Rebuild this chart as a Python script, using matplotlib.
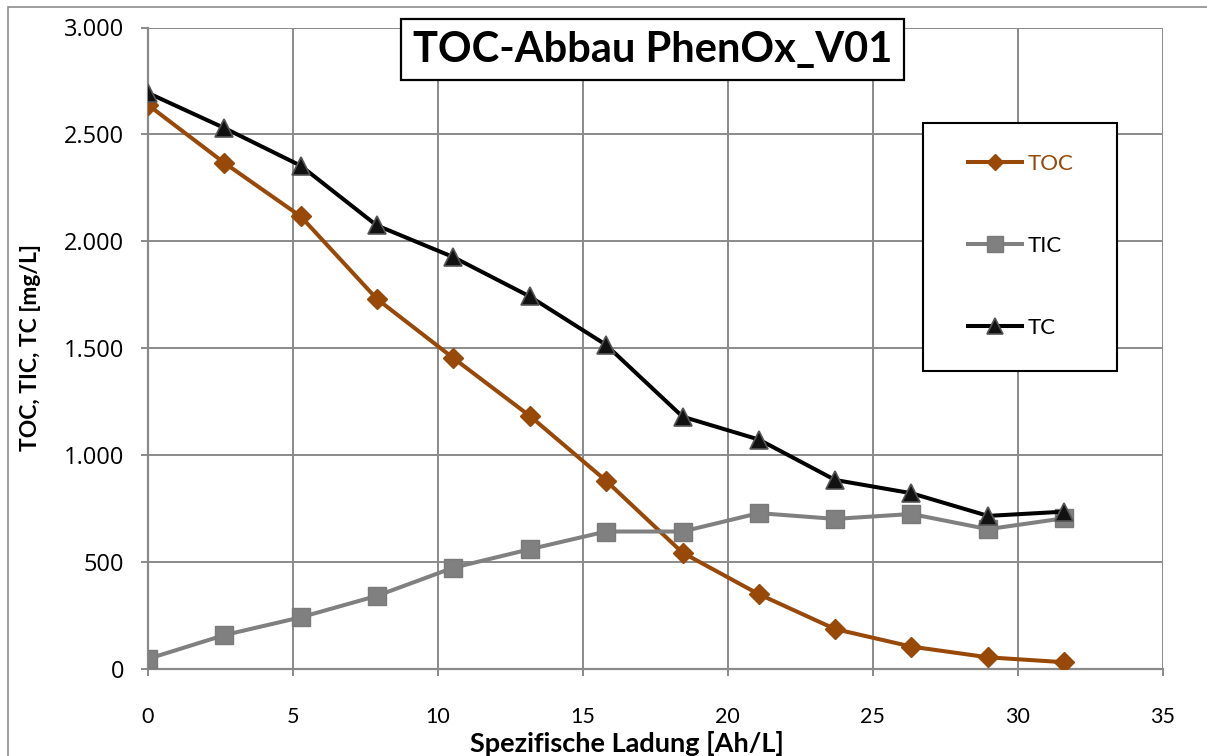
import matplotlib
matplotlib.use("Agg")
import matplotlib.pyplot as plt
from matplotlib.patches import Rectangle
from matplotlib.ticker import FuncFormatter, MultipleLocator

# ---- data ----
ladung = [0, 2.65, 5.28, 7.9, 10.52, 13.17, 15.8, 18.44, 21.07, 23.7, 26.33, 28.97, 31.6]
toc = [2640, 2367, 2117, 1732, 1457, 1185, 882, 545, 351, 188, 106, 56, 33]
tic = [48, 160, 243, 343, 474, 561, 644, 644, 730, 703, 726, 655, 706]
tc = [2695, 2530, 2354, 2075, 1928, 1743, 1517, 1181, 1074, 885, 823, 717, 737]

title = "TOC-Abbau PhenOx_V01"
xlabel = "Spezifische Ladung [Ah/L]"
ylabel = "TOC, TIC, TC [mg/L]"
series_labels = ["TOC", "TIC", "TC"]

W, H = 1207, 756
fig = plt.figure(figsize=(W / 100, H / 100), dpi=100)

def fx(px):
    return px / W

def fy(py):
    return 1 - py / H

# outer chart border
fig.patches.append(Rectangle((fx(7.5), fy(800)), fx(1300), fy(7.3) - fy(800),
                             transform=fig.transFigure, fill=False,
                             edgecolor="#8c8c8c", linewidth=1.2))

left, right, top, bottom = 147.5, 1163, 27.5, 669.3
ax = fig.add_axes([fx(left), fy(bottom), fx(right) - fx(left), fy(top) - fy(bottom)])

grid_c = "#8a8a8a"
brown = "#984807"

ax.plot(ladung, toc, color=brown, lw=2.9, marker="D", ms=10, mfc=brown, mec=brown,
        label=series_labels[0], zorder=3)
ax.plot(ladung, tic, color="#808080", lw=2.9, marker="s", ms=13, mfc="#808080", mec="#7a7a7a",
        label=series_labels[1], zorder=3)
ax.plot(ladung, tc, color="black", lw=2.9, marker="^", ms=13, mfc="#111111", mec="#555555",
        mew=1.2, label=series_labels[2], zorder=4)

ax.set_xlim(0, 35)
ax.set_ylim(0, 3000)
ax.xaxis.set_major_locator(MultipleLocator(5))
ax.yaxis.set_major_locator(MultipleLocator(500))
ax.yaxis.set_major_formatter(FuncFormatter(lambda v, p: f"{int(v):,}".replace(",", ".")))

ax.grid(True, color=grid_c, linewidth=1.4)
ax.set_axisbelow(True)
for s in ["top", "right"]:
    ax.spines[s].set_visible(False)
for s in ["left", "bottom"]:
    ax.spines[s].set_color(grid_c)
    ax.spines[s].set_linewidth(1.6)
ax.tick_params(axis="both", direction="out", length=5, width=1.4, color=grid_c)
ax.tick_params(axis="y", pad=12, labelsize=17)
ax.tick_params(axis="x", pad=22, labelsize=15.5)
for t in ax.get_yticklabels():
    t.set_fontfamily("Open Sans")
for t in ax.get_xticklabels():
    t.set_fontfamily("Lato")

# title with box
fig.text(fx(652.5), fy(49.7), title, ha="center", va="center", fontsize=30,
         fontweight="bold", family="Lato",
         bbox=dict(boxstyle="square,pad=0.28", facecolor="white", edgecolor="black", linewidth=1.6))

# axis labels
fig.text(fx(627), fy(743), xlabel, ha="center", va="center", fontsize=19.5,
         fontweight="bold", family="Lato")
fig.text(fx(31), fy(348), ylabel, ha="center", va="center", rotation=90, fontsize=16.5,
         fontweight="bold", family="Lato")

# legend box
fig.patches.append(Rectangle((fx(922.7), fy(371)), fx(1116.7) - fx(922.7), fy(122.7) - fy(371),
                             transform=fig.transFigure, facecolor="white",
                             edgecolor="black", linewidth=1.5, zorder=5))
leg = fig.legend(loc="center left", bbox_to_anchor=(fx(968), fy(246)), frameon=False,
                 prop={"family": "Lato", "size": 16}, handlelength=2.45,
                 handletextpad=0.22, labelspacing=2.8, borderpad=0, borderaxespad=0,
                 markerscale=0.85)
leg.set_zorder(6)
leg.get_texts()[0].set_color(brown)

fig.savefig("out.png", dpi=100)
